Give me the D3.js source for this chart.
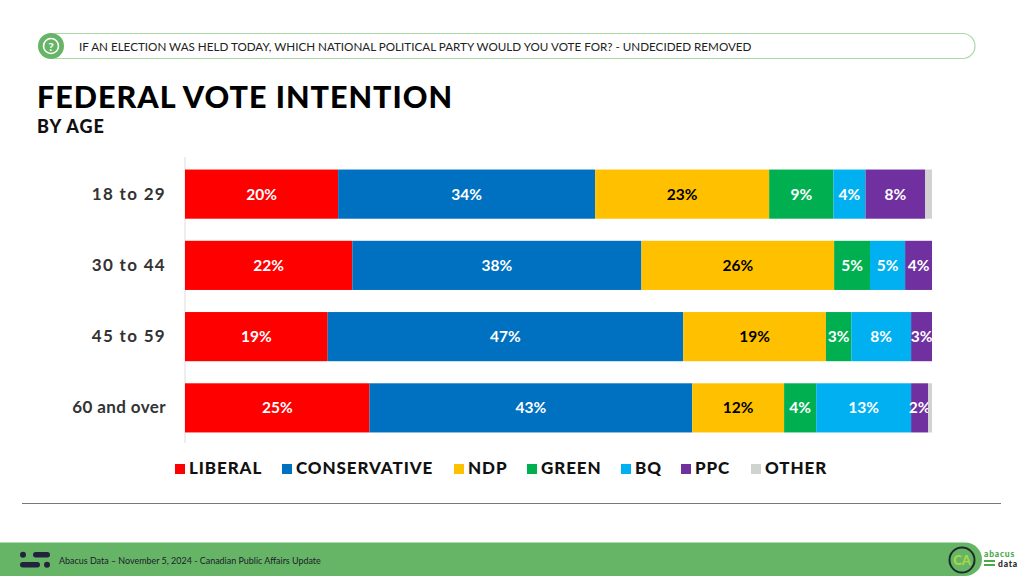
<!DOCTYPE html>
<html><head><meta charset="utf-8">
<script src="https://cdn.jsdelivr.net/npm/d3@7"></script>
<style>html,body{margin:0;padding:0;background:#fff}svg{display:block;font-family:Lato,sans-serif}</style>
</head><body><svg id="c" width="1024" height="576"></svg>
<script>
const categories = ["18 to 29","30 to 44","45 to 59","60 and over"];
const parties = ["LIBERAL","CONSERVATIVE","NDP","GREEN","BQ","PPC","OTHER"];
const colors = ["#ff0000","#0070c0","#ffc000","#00b050","#00b0f0","#7030a0","#d0d3d0"];
const labelColors = ["#fff","#fff","#000","#fff","#fff","#fff","none"];
const liberal = [20.5,22.4,19.1,24.7];
const conservative = [34.4,38.7,47.6,43.2];
const ndp = [23.3,25.8,19.1,12.3];
const green = [8.6,4.8,3.4,4.3];
const bq = [4.3,4.7,8.0,12.7];
const ppc = [8.0,3.6,2.8,2.3];
const other = [0.9,0,0,0.5];
const liberalLabels = ["20%","22%","19%","25%"];
const conservativeLabels = ["34%","38%","47%","43%"];
const ndpLabels = ["23%","26%","19%","12%"];
const greenLabels = ["9%","5%","3%","4%"];
const bqLabels = ["4%","5%","8%","13%"];
const ppcLabels = ["8%","4%","3%","2%"];
const questionText = "IF AN ELECTION WAS HELD TODAY, WHICH NATIONAL POLITICAL PARTY WOULD YOU VOTE FOR? - UNDECIDED REMOVED";
const titleText = "FEDERAL VOTE INTENTION";
const subtitleText = "BY AGE";
const footerText = "Abacus Data – November 5, 2024 - Canadian Public Affairs Update";
const series = [liberal,conservative,ndp,green,bq,ppc,other];
const seriesLabels = [liberalLabels,conservativeLabels,ndpLabels,greenLabels,bqLabels,ppcLabels,null];
const legendX = [175,282,454,527,621,681,751];

const svg = d3.select("#c");
// header
svg.append("rect").attr("x",45).attr("y",33.5).attr("width",930).attr("height",25).attr("rx",12.5)
  .attr("fill","#fff").attr("stroke","#a9d8a6").attr("stroke-width",1.2);
svg.append("circle").attr("cx",51).attr("cy",46).attr("r",13).attr("fill","#66b566");
svg.append("circle").attr("cx",51).attr("cy",46).attr("r",7.5).attr("fill","none").attr("stroke","#fff").attr("stroke-width",1.6);
svg.append("text").attr("x",51).attr("y",50.5).attr("text-anchor","middle").attr("font-size",12).attr("font-weight",700).attr("fill","#fff").text("?");
svg.append("text").attr("x",79).attr("y",50.5).attr("font-size",11.65).attr("fill","#222").text(questionText);
svg.append("text").attr("x",37).attr("y",108).attr("font-size",30.5).attr("font-weight",900).attr("fill","#000").style("letter-spacing","1px").text(titleText);
svg.append("text").attr("x",37).attr("y",132.5).attr("font-size",18).attr("font-weight",900).attr("fill","#111").style("letter-spacing","1px").text(subtitleText);

// chart
const x = d3.scaleLinear().domain([0,100]).range([185,932]);
const y = d3.scaleBand().domain(categories).range([158.5,443.5]).paddingInner(0.31).paddingOuter(0.155);
svg.append("line").attr("x1",185).attr("x2",185).attr("y1",157).attr("y2",443).attr("stroke","#dcdcdc");
const yAxis = svg.append("g").attr("transform","translate(185,0)").call(d3.axisLeft(y).tickSize(0).tickPadding(19));
yAxis.select(".domain").remove();
yAxis.selectAll("text").attr("font-family","Lato,sans-serif").attr("font-size",17).attr("font-weight",700).attr("fill","#333")
  .style("letter-spacing",(d,i)=> i<3 ? "1.3px" : "0.4px");

categories.forEach((c,i)=>{
  let acc=0;
  series.forEach((s,k)=>{
    const v=s[i];
    if(v>0){
      svg.append("rect").attr("x",x(acc)).attr("y",y(c)).attr("width",x(acc+v)-x(acc)).attr("height",y.bandwidth()).attr("fill",colors[k]);
      if(seriesLabels[k]){
        svg.append("text").attr("x",x(acc+v/2)).attr("y",y(c)+y.bandwidth()/2+5.5).attr("text-anchor","middle")
          .attr("font-size",15.5).attr("font-weight",700).attr("fill",labelColors[k]).text(seriesLabels[k][i]);
      }
    }
    acc+=v;
  });
});

// legend
parties.forEach((p,k)=>{
  svg.append("rect").attr("x",legendX[k]).attr("y",464).attr("width",10).attr("height",10).attr("fill",colors[k]);
  svg.append("text").attr("x",legendX[k]+14).attr("y",474).attr("font-size",17).attr("font-weight",900).attr("fill","#111").style("letter-spacing","0.9px").text(p);
});
svg.append("line").attr("x1",22).attr("x2",1001).attr("y1",503.5).attr("y2",503.5).attr("stroke","#77777c").attr("stroke-width",1);

// footer
svg.append("rect").attr("x",-20).attr("y",542.5).attr("width",1002).attr("height",33.5).attr("rx",17).attr("fill","#66b566");
svg.append("rect").attr("x",33).attr("y",552).attr("width",17).attr("height",5.5).attr("rx",2.7).attr("fill","#22223f");
svg.append("rect").attr("x",20).attr("y",562).attr("width",20).attr("height",5.5).attr("rx",2.7).attr("fill","#22223f");
svg.append("circle").attr("cx",23).attr("cy",554.7).attr("r",3).attr("fill","#22223f");
svg.append("circle").attr("cx",47).attr("cy",564.7).attr("r",3).attr("fill","#22223f");
svg.append("text").attr("x",59).attr("y",564).attr("font-size",8.95).attr("fill","#1c1c2c").text(footerText);
svg.append("circle").attr("cx",962).attr("cy",560).attr("r",12.5).attr("fill","none").attr("stroke","#1f2a2a").attr("stroke-width",2);
svg.append("text").attr("x",962).attr("y",565).attr("text-anchor","middle").attr("font-size",13).attr("font-weight",900).attr("fill","#a9d64b").text("CA");
svg.append("text").attr("x",984).attr("y",556.5).attr("font-size",8.5).attr("font-weight",900).attr("fill","#4aa84a").style("letter-spacing","0.8px").text("abacus");
svg.append("text").attr("x",998).attr("y",566.7).attr("font-size",8.5).attr("font-weight",900).attr("fill","#1f2a2a").style("letter-spacing","0.8px").text("data");
svg.append("rect").attr("x",984).attr("y",560).attr("width",11).attr("height",2).attr("fill","#4aa84a");
svg.append("rect").attr("x",984).attr("y",564).attr("width",11).attr("height",2).attr("fill","#4aa84a");
</script></body></html>
